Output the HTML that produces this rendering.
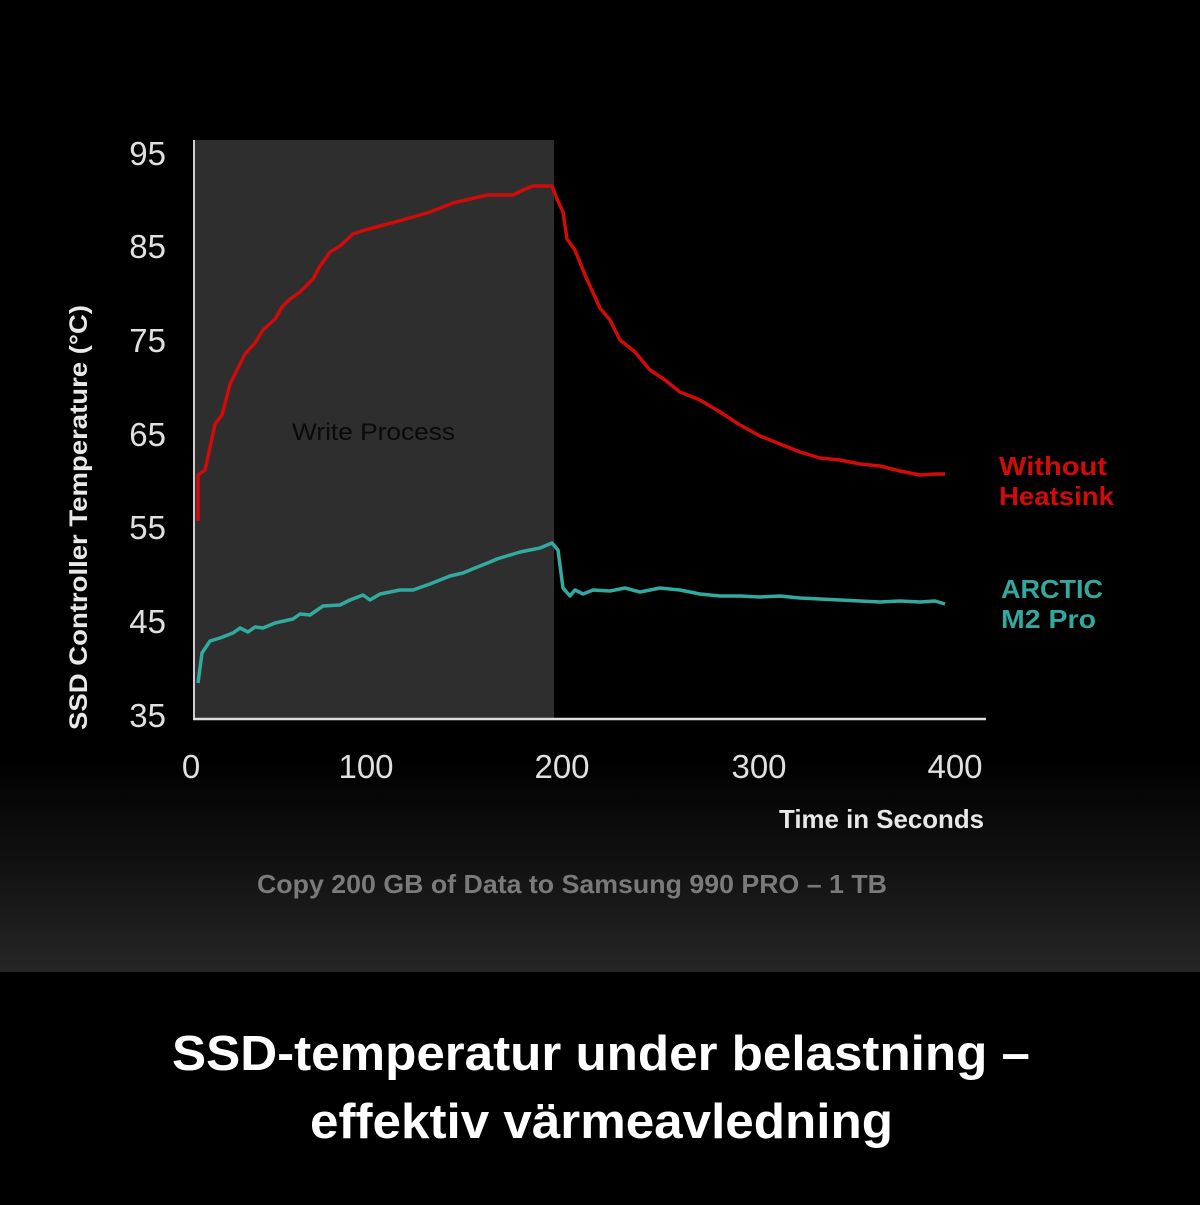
<!DOCTYPE html>
<html><head><style>
html,body{margin:0;padding:0;background:#000;}
body{width:1200px;height:1200px;overflow:hidden;font-family:"Liberation Sans",sans-serif;}
</style></head><body>
<svg width="1200" height="1200" xmlns="http://www.w3.org/2000/svg">
<defs>
<linearGradient id="bg" x1="0" y1="0" x2="0" y2="1">
<stop offset="0" stop-color="#000"/>
<stop offset="0.78" stop-color="#000"/>
<stop offset="0.9" stop-color="#131313"/>
<stop offset="1" stop-color="#262626"/>
</linearGradient>
</defs>
<rect x="0" y="0" width="1200" height="972" fill="url(#bg)"/>
<rect x="0" y="972" width="1200" height="228" fill="#000"/>
<rect x="195" y="140" width="359" height="578" fill="#2e2e2e"/>
<line x1="194" y1="140" x2="194" y2="720" stroke="#ccc" stroke-width="2"/>
<line x1="193" y1="719" x2="986" y2="719" stroke="#ddd" stroke-width="2.5"/>
<g fill="#e0e0e0" font-size="33" text-anchor="end">
<text x="166" y="165">95</text><text x="166" y="258">85</text><text x="166" y="352">75</text>
<text x="166" y="446">65</text><text x="166" y="539">55</text><text x="166" y="633">45</text><text x="166" y="727">35</text>
</g>
<g fill="#e0e0e0" font-size="33" text-anchor="middle">
<text x="191" y="778">0</text><text x="366" y="778">100</text><text x="562" y="778">200</text>
<text x="759" y="778">300</text><text x="955" y="778">400</text>
</g>
<text x="779" y="828" fill="#e8e8e8" font-size="26" font-weight="bold" textLength="205" lengthAdjust="spacingAndGlyphs">Time in Seconds</text>
<text x="257" y="893" fill="#7a7a7a" font-size="26" font-weight="bold" textLength="630" lengthAdjust="spacingAndGlyphs">Copy 200 GB of Data to Samsung 990 PRO  – 1 TB</text>
<text transform="translate(87,730) rotate(-90)" fill="#e8e8e8" font-size="25" font-weight="bold" textLength="425" lengthAdjust="spacingAndGlyphs">SSD Controller Temperature (°C)</text>
<text x="292" y="440" fill="#0a0a0a" font-size="24" textLength="163" lengthAdjust="spacingAndGlyphs">Write Process</text>
<polyline fill="none" stroke="#d10a0a" stroke-width="3.5" stroke-linejoin="round" points="198,521 198,475 205,470 209,452 215,424 222,415 226,400 230,384 236,372 245,354 255,343 263,330 275,319 282,307 290,299 300,292 313,279 320,266 330,252 340,246 353,234 365,230 380,226 395,222 413,217 430,212 453,203 470,199 487,195 500,195 513,195 523,190 533,186 545,186 552,186 557,199 563,212 567,239 575,250 585,275 600,308 610,320 620,340 635,352 650,370 665,380 680,392 700,400 720,412 740,425 760,436 780,444 800,452 820,458 840,460 860,464 880,466 900,471 920,475 935,474 945,474"/>
<polyline fill="none" stroke="#32aaa0" stroke-width="3.5" stroke-linejoin="round" points="198,683 202,653 210,641 220,638 233,633 240,628 248,632 255,627 263,628 275,623 293,619 300,614 310,615 323,606 340,605 350,600 363,595 370,600 380,594 400,590 413,590 430,584 450,576 463,573 475,568 490,562 497,559 520,552 540,548 552,543 558,550 563,588 570,596 575,590 583,594 593,590 610,591 625,588 640,592 660,588 680,590 700,594 720,596 740,596 760,597 780,596 800,598 820,599 840,600 860,601 880,602 900,601 920,602 935,601 945,604"/>
<text x="999" y="475" fill="#d10a0a" font-size="26" font-weight="bold" textLength="108" lengthAdjust="spacingAndGlyphs">Without</text>
<text x="999" y="505" fill="#d10a0a" font-size="26" font-weight="bold" textLength="115" lengthAdjust="spacingAndGlyphs">Heatsink</text>
<text x="1001" y="598" fill="#32a89e" font-size="26" font-weight="bold" textLength="102" lengthAdjust="spacingAndGlyphs">ARCTIC</text>
<text x="1001" y="628" fill="#32a89e" font-size="26" font-weight="bold" textLength="95" lengthAdjust="spacingAndGlyphs">M2 Pro</text>
<text x="172" y="1070" fill="#fff" font-size="49" font-weight="bold" textLength="858" lengthAdjust="spacingAndGlyphs">SSD-temperatur under belastning –</text>
<text x="310" y="1138" fill="#fff" font-size="49" font-weight="bold" textLength="583" lengthAdjust="spacingAndGlyphs">effektiv värmeavledning</text>
</svg>
</body></html>
